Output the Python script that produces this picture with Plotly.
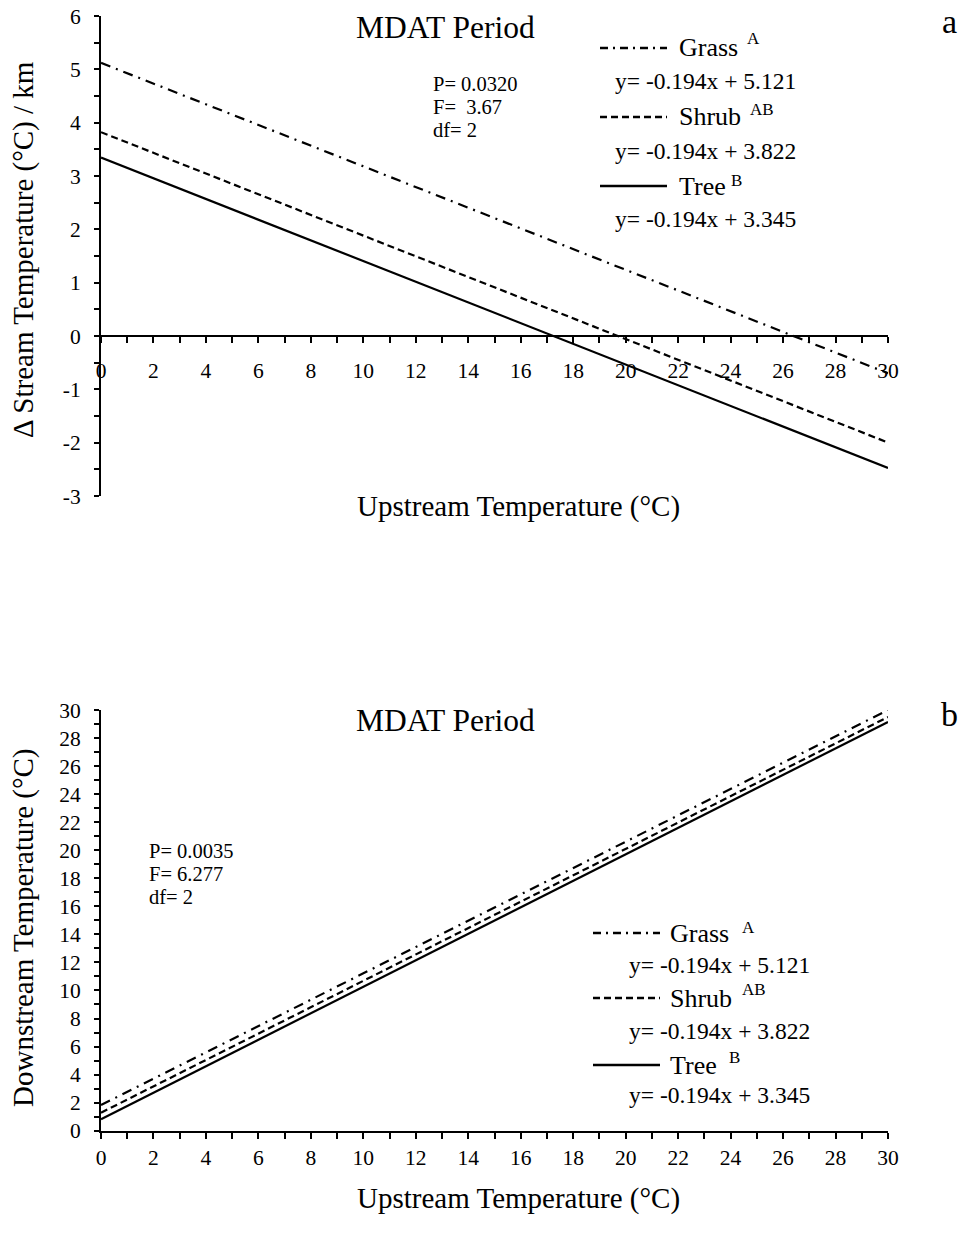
import plotly.graph_objects as go

# ---------------- data ----------------
x_upstream = [0, 30]
series_names = ["Grass", "Shrub", "Tree"]
sig_letters = ["A", "AB", "B"]
equations = ["y= -0.194x + 5.121", "y= -0.194x + 3.822", "y= -0.194x + 3.345"]

grass_delta = [5.121, -0.699]
shrub_delta = [3.822, -1.998]
tree_delta = [3.345, -2.475]

grass_down = [1.83, 30.0]
shrub_down = [1.28, 29.5]
tree_down = [0.82, 29.15]

stats_a = ["P= 0.0320", "F=  3.67", "df= 2"]
stats_b = ["P= 0.0035", "F= 6.277", "df= 2"]

ytick_vals_a = [-3, -2, -1, 0, 1, 2, 3, 4, 5, 6]
ytick_text_a = ["-3", "-2", "-1", "0", "1", "2", "3", "4", "5", "6"]

title_text = "MDAT Period"
xtitle = "Upstream Temperature (°C)"
ytitle_a = "Δ Stream Temperature (°C) / km"
ytitle_b = "Downstream Temperature (°C)"
panel_labels = ["a", "b"]

# ---------------- layout helpers ----------------
W, H = 964, 1239
FONT = "Liberation Serif, Times New Roman, serif"


def px(x):
    return x / W


def py(y):
    return 1 - y / H


dash_styles = ["10px,6px,2px,6px", "7px,4px", "solid"]
legend_dash = ["8px,5px,2px,5px", "7px,4px", "solid"]
LW = 2.2

fig = go.Figure()

top_vals = [grass_delta, shrub_delta, tree_delta]
bot_vals = [grass_down, shrub_down, tree_down]
for name, vals, dash in zip(series_names, top_vals, dash_styles):
    fig.add_trace(go.Scatter(x=x_upstream, y=vals, mode="lines", name=name,
                             line=dict(color="black", width=LW, dash=dash),
                             xaxis="x", yaxis="y", showlegend=False))
for name, vals, dash in zip(series_names, bot_vals, dash_styles):
    fig.add_trace(go.Scatter(x=x_upstream, y=vals, mode="lines", name=name,
                             line=dict(color="black", width=LW, dash=dash),
                             xaxis="x2", yaxis="y2", showlegend=False))

xdom = [px(101), px(888)]
ydom_top = [py(496), py(16)]
ydom_bot = [py(1130.7), py(710)]
yr_top = [-3, 6]
zero_pos = ydom_top[0] + (0 - yr_top[0]) / (yr_top[1] - yr_top[0]) * (ydom_top[1] - ydom_top[0])

tickfont = dict(family=FONT, size=21.5, color="black")
common = dict(showline=True, linecolor="black", linewidth=2, ticks="outside",
              tickwidth=2, tickcolor="black", showgrid=False, zeroline=False,
              tickfont=tickfont, automargin=False)

fig.update_layout(
    width=W, height=H, template="none",
    margin=dict(l=0, r=0, t=0, b=0),
    paper_bgcolor="white", plot_bgcolor="white",
    font=dict(family=FONT, color="black"),
    showlegend=False,
    xaxis=dict(domain=xdom, range=[0, 30], anchor="free", position=zero_pos,
               tick0=0, dtick=2, ticklen=6, ticklabelstandoff=9,
               minor=dict(dtick=1, tick0=0, ticks="outside", ticklen=6, tickwidth=2,
                          tickcolor="black", showgrid=False),
               **common),
    yaxis=dict(domain=ydom_top, range=yr_top, anchor="x",
               tickmode="array", tickvals=ytick_vals_a, ticktext=ytick_text_a,
               ticklen=5, ticklabelstandoff=9,
               minor=dict(dtick=0.5, tick0=0, ticks="outside", ticklen=5, tickwidth=2,
                          tickcolor="black", showgrid=False),
               **common),
    xaxis2=dict(domain=xdom, range=[0, 30], anchor="y2", tick0=0, dtick=2,
                ticklen=6, ticklabelstandoff=0,
                minor=dict(dtick=1, tick0=0, ticks="outside", ticklen=6, tickwidth=2,
                           tickcolor="black", showgrid=False),
                **common),
    yaxis2=dict(domain=ydom_bot, range=[0, 30], anchor="x2", tick0=0, dtick=2,
                ticklen=5, ticklabelstandoff=9,
                minor=dict(dtick=1, tick0=0, ticks="outside", ticklen=5, tickwidth=2,
                           tickcolor="black", showgrid=False),
                **common),
)

ann = []


def text(x, y, s, size, xanchor="center", yanchor="middle", angle=0):
    ann.append(dict(x=px(x), y=py(y), xref="paper", yref="paper", text=s,
                    showarrow=False, xanchor=xanchor, yanchor=yanchor,
                    textangle=angle, font=dict(family=FONT, size=size, color="black")))


# titles
text(445, 27, title_text, 31.5)
text(445, 720, title_text, 31.5)
# panel letters
text(949, 22, panel_labels[0], 34)
text(949, 714, panel_labels[1], 34)
# axis titles
text(518, 506, xtitle, 29)
text(518, 1198, xtitle, 29)
text(23, 250, ytitle_a, 29, angle=-90)
text(23, 928, ytitle_b, 29, angle=-90)
# stats
for s, yy in zip(stats_a, [84, 107, 130]):
    text(431, yy, s, 20.5, xanchor="left")
for s, yy in zip(stats_b, [851, 874, 897]):
    text(147, yy, s, 20.5, xanchor="left")

# legends (manual, two blocks)
shapes = []
legend_blocks = [
    dict(x0=600, x1=667, xt=677, xe=613, ys=[48, 117, 186], ye=[81, 151, 219],
         xs=[745, 748, 729], yss=[39, 109, 181]),
    dict(x0=593, x1=660, xt=668, xe=627, ys=[933, 998, 1065], ye=[965, 1031, 1095],
         xs=[740, 740, 727], yss=[927, 989, 1057]),
]
for blk in legend_blocks:
    for i, name in enumerate(series_names):
        y_line = blk["ys"][i]
        shapes.append(dict(type="line", xref="paper", yref="paper",
                           x0=px(blk["x0"]), x1=px(blk["x1"]), y0=py(y_line), y1=py(y_line),
                           line=dict(color="black", width=2.4, dash=legend_dash[i])))
        text(blk["xt"], y_line, name, 26, xanchor="left")
        text(blk["xs"][i], blk["yss"][i], sig_letters[i], 17, xanchor="left")
        text(blk["xe"], blk["ye"][i], equations[i], 23.5, xanchor="left")

fig.update_layout(annotations=ann, shapes=shapes)

fig.write_html("out.html")
